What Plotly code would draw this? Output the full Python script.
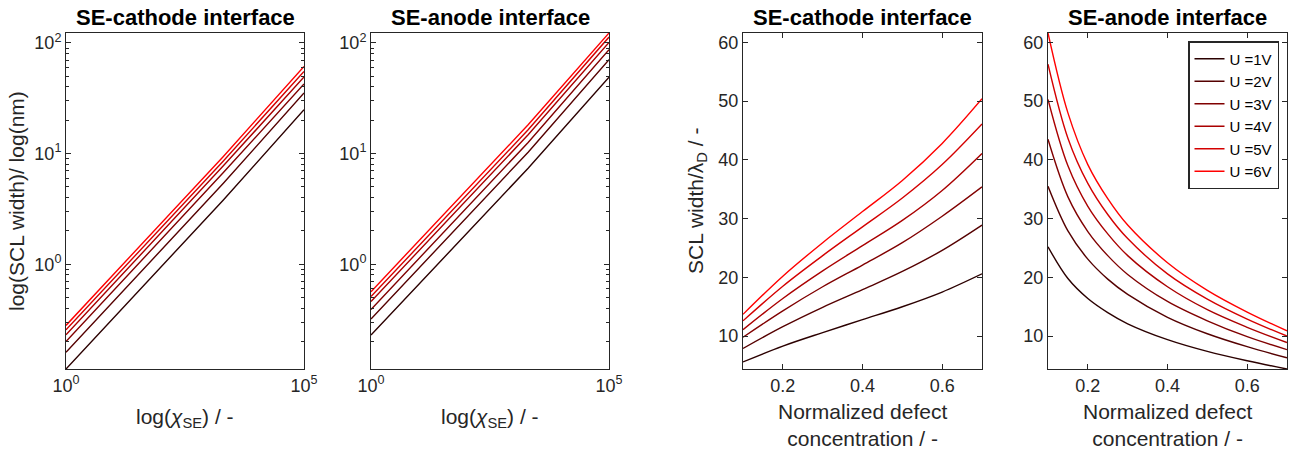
import numpy as np
import plotly.graph_objects as go


# ── Data ──────────────────────────────────────────────────────────────────────

VOLTAGES = [1, 2, 3, 4, 5, 6]

# left pair: SCL width (nm) vs chi_SE on log-log axes
CHI_SE = [1, 2000, 1e5]
CATHODE_WIDTH_NM = [
    [0.113, 3.79, 24.9],
    [0.160, 5.36, 35.3],
    [0.200, 6.70, 42.5],
    [0.230, 7.71, 49.2],
    [0.255, 8.54, 55.3],
    [0.280, 9.38, 61.4],
]
ANODE_WIDTH_NM = [
    [0.229, 7.37, 49.0],
    [0.320, 10.3, 70.7],
    [0.390, 12.6, 86.9],
    [0.460, 14.8, 101.0],
    [0.510, 16.4, 113.0],
    [0.565, 18.2, 123.0],
]

# right pair: SCL width / Debye length vs normalized defect concentration
CATHODE_CONC = [0.1, 0.2, 0.3, 0.4, 0.5, 0.6, 0.7]
CATHODE_WIDTH_LD = [
    [5.6, 8.3, 10.6, 12.8, 15.0, 17.5, 20.6],
    [7.9, 11.6, 14.9, 17.9, 21.0, 24.6, 28.9],
    [9.8, 14.3, 18.4, 22.1, 25.9, 30.4, 35.4],
    [11.1, 16.4, 21.1, 25.4, 29.7, 34.8, 41.1],
    [12.6, 18.5, 23.7, 28.6, 33.5, 39.2, 46.1],
    [13.7, 20.2, 25.9, 31.2, 36.5, 42.8, 50.4],
]
ANODE_CONC = [0.1, 0.15, 0.2, 0.25, 0.3, 0.4, 0.5, 0.6, 0.7]
ANODE_WIDTH_LD = [
    [25.2, 19.8, 16.4, 14.0, 12.1, 9.4, 7.4, 5.8, 4.4],
    [35.5, 27.9, 23.1, 19.7, 17.1, 13.2, 10.4, 8.2, 6.3],
    [43.5, 33.7, 27.8, 23.7, 20.5, 15.9, 12.6, 9.9, 7.7],
    [50.3, 39.0, 32.1, 27.4, 23.7, 18.4, 14.5, 11.5, 8.9],
    [56.3, 43.7, 36.0, 30.7, 26.6, 20.6, 16.3, 12.9, 10.0],
    [61.6, 48.0, 39.2, 33.4, 28.9, 22.5, 17.8, 14.1, 10.9],
]

COLORS = ['#2b0000', '#550000', '#800000', '#aa0000', '#d40000', '#ff0000']

W, H = 1316, 451
FONT = 'Liberation Sans, Arial, Helvetica, sans-serif'
INK = '#262626'

# plot boxes in pixels: (left, right), shared top/bottom
BOXES_X = [(66, 304), (371, 609), (743, 982), (1048, 1287)]
BOX_TOP, BOX_BOTTOM = 33, 369


def px_x(x):
    return x / W


def px_y(y):
    return 1 - y / H


def label(text, x, y, size=21, color=INK, angle=0):
    fig.add_annotation(x=px_x(x), y=px_y(y), xref='paper', yref='paper',
                       xanchor='center', yanchor='middle', text=text,
                       textangle=angle, showarrow=False,
                       font=dict(family=FONT, size=size, color=color))


# ── Figure ────────────────────────────────────────────────────────────────────

fig = go.Figure()

panels = [
    (CHI_SE, CATHODE_WIDTH_NM, 'linear'),
    (CHI_SE, ANODE_WIDTH_NM, 'linear'),
    (CATHODE_CONC, CATHODE_WIDTH_LD, 'spline'),
    (ANODE_CONC, ANODE_WIDTH_LD, 'spline'),
]

for p, (xs, rows, shape) in enumerate(panels):
    ax = '' if p == 0 else str(p + 1)
    for i, (u, ys) in enumerate(zip(VOLTAGES, rows)):
        fig.add_trace(go.Scatter(
            x=xs, y=ys, mode='lines',
            line=dict(color=COLORS[i], width=1.4, shape=shape, smoothing=1.0),
            name=f'U ={u}V', showlegend=(p == 3),
            xaxis='x' + ax, yaxis='y' + ax,
        ))

axis_style = dict(
    showline=True, linecolor=INK, linewidth=1, mirror='ticks',
    ticks='inside', ticklen=5, tickcolor=INK, tickwidth=1,
    showgrid=False, zeroline=False, automargin=False,
    tickfont=dict(family=FONT, size=18, color=INK),
)

log_widths = [v for rows in (CATHODE_WIDTH_NM, ANODE_WIDTH_NM) for r in rows for v in r]
log_yrange = [np.log10(min(log_widths)), np.log10(max(log_widths))]
lin_widths = [v for rows in (CATHODE_WIDTH_LD, ANODE_WIDTH_LD) for r in rows for v in r]
lin_yrange = [min(lin_widths), max(lin_widths)]

minor_log = [m * 10.0 ** e for e in (-1, 0, 1) for m in range(2, 10)]
yd = [px_y(BOX_BOTTOM), px_y(BOX_TOP)]

layout = dict(
    width=W, height=H, margin=dict(l=0, r=0, t=0, b=0, autoexpand=False),
    paper_bgcolor='white', plot_bgcolor='white',
    font=dict(family=FONT, color=INK),
    legend=dict(
        x=px_x(1279), y=px_y(41), xanchor='right', yanchor='top',
        bgcolor='white', bordercolor=INK, borderwidth=1.5,
        font=dict(family=FONT, size=15, color='black'),
        tracegroupgap=0, itemwidth=30,
    ),
)

for p, (x0, x1) in enumerate(BOXES_X):
    key = '' if p == 0 else str(p + 1)
    xa = dict(axis_style, domain=[px_x(x0), px_x(x1)], anchor='y' + key)
    ya = dict(axis_style, domain=yd, anchor='x' + key)
    if p < 2:
        xa.update(type='log', range=[0, 5], tickvals=[1, 1e5],
                  ticktext=['10<sup>0</sup>', '10<sup>5</sup>'])
        ya.update(type='log', range=log_yrange, tickvals=[1, 10, 100],
                  ticktext=['10<sup>0</sup>', '10<sup>1</sup>', '10<sup>2</sup>'],
                  minor=dict(ticks='inside', ticklen=3, tickcolor=INK,
                             tickvals=minor_log))
    else:
        xa.update(range=[0.1, 0.7], tickvals=[0.2, 0.4, 0.6])
        ya.update(range=lin_yrange, tickvals=[10, 20, 30, 40, 50, 60])
    layout['xaxis' + key] = xa
    layout['yaxis' + key] = ya

fig.update_layout(**layout)

# ── Titles and axis labels ────────────────────────────────────────────────────

titles = ['SE-cathode interface', 'SE-anode interface',
          'SE-cathode interface', 'SE-anode interface']
for (x0, x1), t in zip(BOXES_X, titles):
    label(f'<b>{t}</b>', (x0 + x1) / 2, 17, size=22, color='black')

for p, (x0, x1) in enumerate(BOXES_X):
    cx = (x0 + x1) / 2
    if p < 2:
        label('log(<i>χ</i><sub>SE</sub>) / -', cx, 418)
    else:
        label('Normalized defect<br>concentration / -', cx, 425)

cy = (BOX_TOP + BOX_BOTTOM) / 2
label('log(SCL width)/ log(nm)', 16, cy, angle=-90)
label('SCL width/λ<sub>D</sub> / -', 697, cy, angle=-90)

# page body margin would shift the figure; drop it
fig.write_html("out.html", config={'displayModeBar': False},
               post_script="document.body.style.margin = '0';")
